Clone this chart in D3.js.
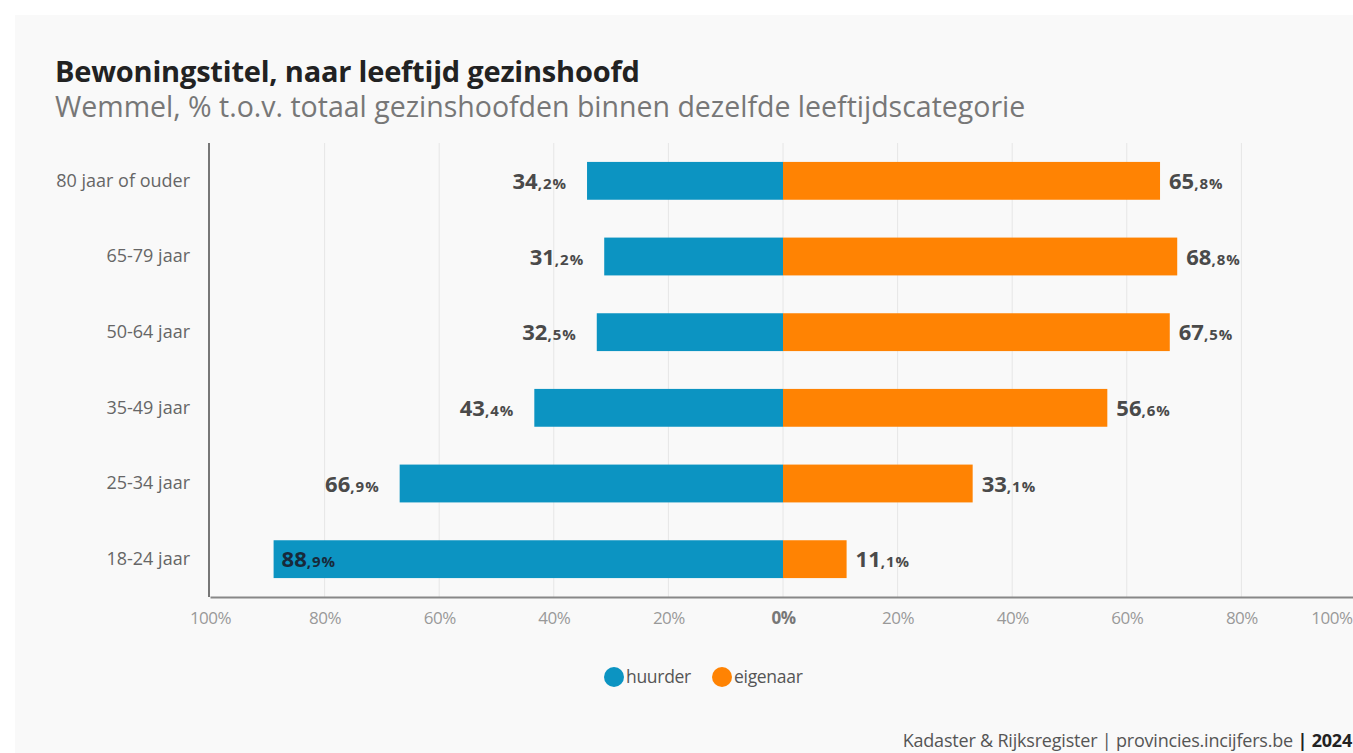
<!DOCTYPE html>
<html>
<head>
<meta charset="utf-8">
<script src="https://cdn.jsdelivr.net/npm/d3@7"></script>
<style>
  body { margin: 0; background: #ffffff; }
  #svgDiv { width: 1353px; height: 753px; }
  text { font-family: "Open Sans", Lato, sans-serif; }
</style>
</head>
<body>
<div id="svgDiv"></div>
<script>
//data
var categories = ["80 jaar of ouder", "65-79 jaar", "50-64 jaar", "35-49 jaar", "25-34 jaar", "18-24 jaar"];
var huurder = [34.2, 31.2, 32.5, 43.4, 66.9, 88.9];
var eigenaar = [65.8, 68.8, 67.5, 56.6, 33.1, 11.1];
var tickValues = [-100, -80, -60, -40, -20, 0, 20, 40, 60, 80, 100];
var seriesNames = ["huurder", "eigenaar"];
var seriesColors = ["#0c94c2", "#ff8303"];

var svgWidth = 1353, svgHeight = 753;
var svg = d3.select("#svgDiv").append("svg")
    .attr("width", svgWidth)
    .attr("height", svgHeight);

//panel background
svg.append("rect").attr("x", 15).attr("y", 15)
    .attr("width", svgWidth - 15).attr("height", svgHeight - 15)
    .attr("fill", "#f9f9f9");

//titles
svg.append("text").attr("x", 55).attr("y", 82)
    .attr("font-size", 29).attr("font-weight", 700).attr("fill", "#222")
    .attr("letter-spacing", -0.2)
    .text("Bewoningstitel, naar leeftijd gezinshoofd");
svg.append("text").attr("x", 55).attr("y", 117)
    .attr("font-size", 28.5).attr("fill", "#777")
    .text("Wemmel, % t.o.v. totaal gezinshoofden binnen dezelfde leeftijdscategorie");

var x = d3.scaleLinear().domain([-100, 100]).range([210, 1356]);
var y = d3.scaleBand().domain(categories).range([143, 597]).paddingInner(0.5).paddingOuter(0.25);

//gridlines
svg.selectAll("line.grid")
    .data(tickValues.filter(function(d){ return d > -100; }))
    .enter().append("line")
    .attr("class", "grid")
    .attr("x1", function(d){ return x(d); })
    .attr("x2", function(d){ return x(d); })
    .attr("y1", 143).attr("y2", 597)
    .attr("stroke", "#e6e6e6").attr("stroke-width", 1);

//x axis
var xAxis = svg.append("g").attr("transform", "translate(0,597)")
    .call(d3.axisBottom(x).tickValues(tickValues).tickSize(0).tickPadding(15)
        .tickFormat(function(d){ return Math.abs(d) + "%"; }));
xAxis.select(".domain").attr("stroke", "#888").attr("stroke-width", 2);
xAxis.selectAll("text").attr("font-size", 17)
    .attr("font-family", "\"Open Sans\", sans-serif")
    .attr("font-weight", function(d){ return d === 0 ? 700 : 400; })
    .attr("fill", function(d){ return d === 0 ? "#777" : "#999"; })
    .attr("letter-spacing", -0.5)
    .attr("text-anchor", function(d){ return d === 100 ? "end" : "middle"; })
    .attr("x", function(d){ return d === 100 ? -4 : 0; });

//y axis
var yAxis = svg.append("g").attr("transform", "translate(209,0)")
    .call(d3.axisLeft(y).tickSize(0).tickPadding(19));
yAxis.select(".domain").attr("stroke", "#777").attr("stroke-width", 2)
    .attr("d", "M0,143V597");
yAxis.selectAll("text").attr("font-size", 18).attr("fill", "#666")
    .attr("font-family", "\"Open Sans\", sans-serif")
    .attr("letter-spacing", 0);

//bars huurder (left)
svg.selectAll("rect.huurder")
    .data(huurder)
    .enter().append("rect")
    .attr("class", "huurder")
    .attr("x", function(d){ return x(-d); })
    .attr("y", function(d, i){ return y(categories[i]); })
    .attr("width", function(d){ return x(0) - x(-d); })
    .attr("height", y.bandwidth())
    .attr("fill", seriesColors[0]);

//bars eigenaar (right)
svg.selectAll("rect.eigenaar")
    .data(eigenaar)
    .enter().append("rect")
    .attr("class", "eigenaar")
    .attr("x", x(0))
    .attr("y", function(d, i){ return y(categories[i]); })
    .attr("width", function(d){ return x(d) - x(0); })
    .attr("height", y.bandwidth())
    .attr("fill", seriesColors[1]);

//value labels: big integer part, small decimal part
function addLabel(sel, value){
    var parts = value.toFixed(1).split(".");
    sel.append("tspan").attr("font-size", 22).attr("font-weight", 700).text(parts[0]);
    sel.append("tspan").attr("font-size", 15).attr("font-weight", 700)
        .attr("letter-spacing", 1).text("," + parts[1] + "%");
}

huurder.forEach(function(d, i){
    var inside = x(-d) < 300;
    var t = svg.append("text")
        .attr("y", y(categories[i]) + y.bandwidth() / 2 + 8)
        .attr("fill", inside ? "#17293a" : "#4a4a4a");
    if (inside) {
        t.attr("x", x(-d) + 8).attr("text-anchor", "start");
    } else {
        t.attr("x", x(-d) - 20).attr("text-anchor", "end");
    }
    addLabel(t, d);
});

eigenaar.forEach(function(d, i){
    var t = svg.append("text")
        .attr("x", x(d) + 9)
        .attr("y", y(categories[i]) + y.bandwidth() / 2 + 8)
        .attr("fill", "#4a4a4a");
    addLabel(t, d);
});

//legend
var legend = svg.selectAll("g.legend")
    .data(seriesNames)
    .enter().append("g")
    .attr("class", "legend")
    .attr("transform", function(d, i){ return "translate(" + (614 + i * 108) + ",677)"; });
legend.append("circle").attr("r", 10)
    .attr("fill", function(d, i){ return seriesColors[i]; });
legend.append("text").attr("x", 12).attr("y", 6)
    .attr("font-size", 17.5).attr("fill", "#555")
    .attr("letter-spacing", -0.3)
    .text(function(d){ return d; });

//source
var src = svg.append("text").attr("x", 1352).attr("y", 747)
    .attr("text-anchor", "end").attr("font-size", 18).attr("fill", "#555")
    .attr("letter-spacing", -0.2);
src.append("tspan").text("Kadaster & Rijksregister | provincies.incijfers.be ");
src.append("tspan").attr("font-weight", 700).attr("fill", "#222").text("| 2024");
</script>
</body>
</html>
